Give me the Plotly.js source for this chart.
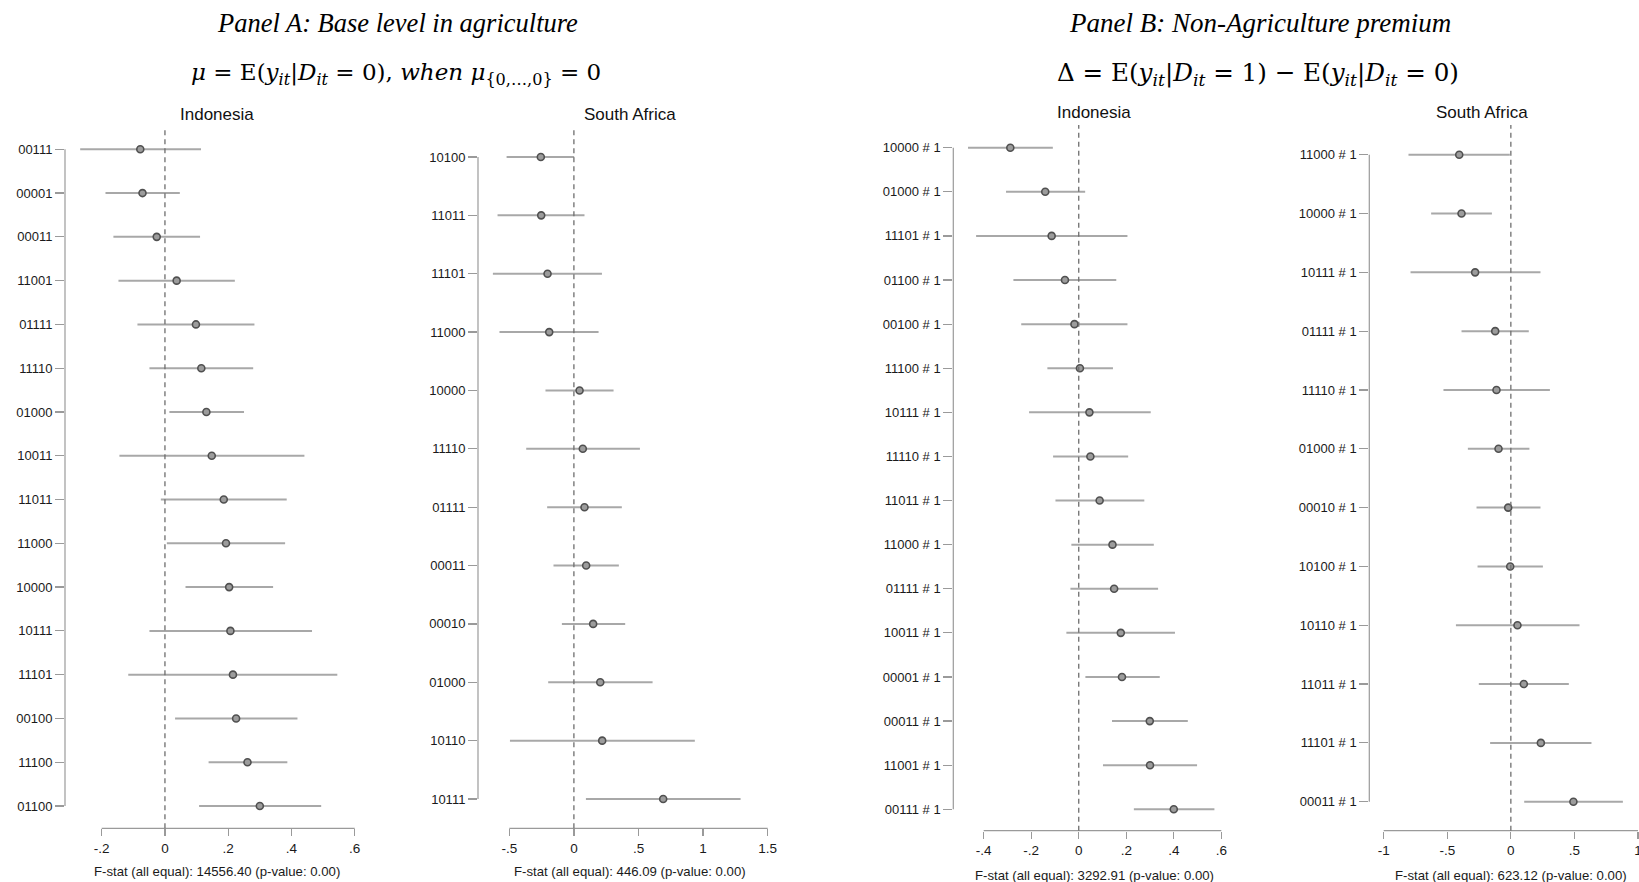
<!DOCTYPE html>
<html>
<head>
<meta charset="utf-8">
<script src="https://cdn.plot.ly/plotly-3.0.1.min.js"></script>
<style>html,body{margin:0;padding:0;background:#fff;}#chart{width:1639px;height:882px;}</style>
</head>
<body>
<div id="chart"></div>
<script>
// ---------------- DATA ----------------
const indoA_labels = ['00111','00001','00011','11001','01111','11110','01000','10011','11011','11000','10000','10111','11101','00100','11100','01100'];
const indoA_coef = [-0.078,-0.071,-0.026,0.037,0.098,0.115,0.131,0.148,0.186,0.193,0.203,0.207,0.215,0.225,0.261,0.300];
const indoA_lo   = [-0.268,-0.188,-0.163,-0.147,-0.087,-0.049,0.014,-0.144,-0.013,0.006,0.065,-0.049,-0.116,0.032,0.138,0.108];
const indoA_hi   = [0.114,0.047,0.111,0.221,0.283,0.279,0.250,0.441,0.385,0.380,0.342,0.465,0.545,0.419,0.387,0.494];

const saA_labels = ['10100','11011','11101','11000','10000','11110','01111','00011','00010','01000','10110','10111'];
const saA_coef = [-0.256,-0.253,-0.204,-0.191,0.044,0.069,0.082,0.095,0.149,0.204,0.219,0.691];
const saA_lo   = [-0.521,-0.591,-0.627,-0.576,-0.220,-0.369,-0.207,-0.158,-0.093,-0.199,-0.495,0.093];
const saA_hi   = [0.002,0.082,0.217,0.191,0.307,0.511,0.371,0.348,0.397,0.609,0.936,1.290];

const indoB_labels = ['10000 # 1','01000 # 1','11101 # 1','01100 # 1','00100 # 1','11100 # 1','10111 # 1','11110 # 1','11011 # 1','11000 # 1','01111 # 1','10011 # 1','00001 # 1','00011 # 1','11001 # 1','00111 # 1'];
const indoB_coef = [-0.288,-0.141,-0.114,-0.058,-0.018,0.005,0.045,0.049,0.088,0.142,0.149,0.177,0.182,0.299,0.300,0.400];
const indoB_lo   = [-0.466,-0.306,-0.432,-0.275,-0.242,-0.132,-0.209,-0.108,-0.098,-0.031,-0.035,-0.052,0.028,0.140,0.102,0.232];
const indoB_hi   = [-0.109,0.027,0.205,0.158,0.205,0.144,0.303,0.208,0.276,0.316,0.334,0.405,0.341,0.459,0.498,0.571];

const saB_labels = ['11000 # 1','10000 # 1','10111 # 1','01111 # 1','11110 # 1','01000 # 1','00010 # 1','10100 # 1','10110 # 1','11011 # 1','11101 # 1','00011 # 1'];
const saB_coef = [-0.406,-0.388,-0.281,-0.123,-0.113,-0.097,-0.021,-0.005,0.052,0.102,0.236,0.492];
const saB_lo   = [-0.805,-0.627,-0.789,-0.388,-0.530,-0.338,-0.270,-0.262,-0.432,-0.252,-0.163,0.105];
const saB_hi   = [-0.008,-0.149,0.233,0.141,0.307,0.146,0.233,0.252,0.540,0.456,0.634,0.881];

const indoA_xticks = [-0.2,0,0.2,0.4,0.6];  const indoA_xtext = ['-.2','0','.2','.4','.6'];
const saA_xticks = [-0.5,0,0.5,1,1.5];      const saA_xtext = ['-.5','0','.5','1','1.5'];
const indoB_xticks = [-0.4,-0.2,0,0.2,0.4,0.6]; const indoB_xtext = ['-.4','-.2','0','.2','.4','.6'];
const saB_xticks = [-1,-0.5,0,0.5,1];       const saB_xtext = ['-1','-.5','0','.5','1'];

const fstatA_indo = 'F-stat (all equal): 14556.40 (p-value: 0.00)';
const fstatA_sa   = 'F-stat (all equal): 446.09 (p-value: 0.00)';
const fstatB_indo = 'F-stat (all equal): 3292.91 (p-value: 0.00)';
const fstatB_sa   = 'F-stat (all equal): 623.12 (p-value: 0.00)';

// ---------------- LAYOUT GEOMETRY (pixels) ----------------
const W = 1639, H = 882;
const AX = '#9a9a9a', BAR = '#a8a8a8', TXT = '#1a1a1a';
const FONT = 'Liberation Sans, Arial, sans-serif';

const panels = [
  {labels: indoA_labels, coef: indoA_coef, lo: indoA_lo, hi: indoA_hi, xt: indoA_xticks, xtt: indoA_xtext,
   px0: 65, px1: 372, top: 127, bot: 828.3, t0v: -0.2, t0p: 101.7, t1v: 0.6, t1p: 354.7, c0: 149.3, c1: 806,
   title: 'Indonesia', tx: 217, ty: 114, fstat: fstatA_indo, fx: 217, fy: 871},
  {labels: saA_labels, coef: saA_coef, lo: saA_lo, hi: saA_hi, xt: saA_xticks, xtt: saA_xtext,
   px0: 478, px1: 782, top: 126.7, bot: 828.3, t0v: -0.5, t0p: 509.3, t1v: 1.5, t1p: 767.7, c0: 157, c1: 799,
   title: 'South Africa', tx: 630, ty: 114, fstat: fstatA_sa, fx: 630, fy: 871},
  {labels: indoB_labels, coef: indoB_coef, lo: indoB_lo, hi: indoB_hi, xt: indoB_xticks, xtt: indoB_xtext,
   px0: 953.3, px1: 1236, top: 125, bot: 830.7, t0v: -0.4, t0p: 983.7, t1v: 0.6, t1p: 1221.3, c0: 147.7, c1: 809.3,
   title: 'Indonesia', tx: 1094, ty: 112, fstat: fstatB_indo, fx: 1094.5, fy: 875},
  {labels: saB_labels, coef: saB_coef, lo: saB_lo, hi: saB_hi, xt: saB_xticks, xtt: saB_xtext,
   px0: 1369.3, px1: 1639, top: 125, bot: 830.7, t0v: -1, t0p: 1383.7, t1v: 1, t1p: 1638, c0: 154.7, c1: 801.7,
   title: 'South Africa', tx: 1482, ty: 112, fstat: fstatB_sa, fx: 1510.5, fy: 875}
];

const traces = [];
const layout = {
  width: W, height: H, margin: {l: 0, r: 0, t: 0, b: 0},
  paper_bgcolor: '#fff', plot_bgcolor: 'rgba(0,0,0,0)',
  showlegend: false, shapes: [], annotations: [],
  font: {family: FONT, color: TXT}
};

panels.forEach((p, i) => {
  const k = i === 0 ? '' : String(i + 1);
  const xa = 'x' + k, ya = 'y' + k;
  const n = p.labels.length;
  const idx = p.labels.map((_, j) => j);
  const ux = (p.t1p - p.t0p) / (p.t1v - p.t0v);
  const xr = [p.t0v - (p.t0p - p.px0) / ux, p.t0v + (p.px1 - p.t0p) / ux];
  const sp = (p.c1 - p.c0) / (n - 1);
  const yr = [(n - 1) + (p.bot - p.c1) / sp, 0 - (p.c0 - p.top) / sp];

  traces.push({
    type: 'scatter', mode: 'markers', x: p.coef, y: idx, xaxis: xa, yaxis: ya,
    cliponaxis: false,
    error_x: {type: 'data', symmetric: false,
      array: p.hi.map((h, j) => h - p.coef[j]),
      arrayminus: p.lo.map((l, j) => p.coef[j] - l),
      width: 0, thickness: 2, color: BAR},
    marker: {symbol: 'circle', size: 7, color: '#9c9c9c', line: {color: '#505050', width: 1.6}},
    hoverinfo: 'skip'
  });

  layout['xaxis' + k] = {
    domain: [p.px0 / W, p.px1 / W], range: xr, anchor: ya,
    showgrid: false, zeroline: false, showline: false,
    tickmode: 'array', tickvals: p.xt, ticktext: p.xtt,
    ticks: 'outside', ticklen: 7, tickwidth: 1.2, tickcolor: AX,
    ticklabeloverflow: 'allow',
    tickfont: {family: FONT, size: 13.5, color: TXT}, fixedrange: true
  };
  layout['yaxis' + k] = {
    domain: [1 - p.bot / H, 1 - p.top / H], range: yr, anchor: xa,
    showgrid: false, zeroline: false, showline: false,
    tickmode: 'array', tickvals: idx, ticktext: p.labels,
    ticks: 'outside', ticklen: 9, tickwidth: 1.2, tickcolor: AX,
    tickfont: {family: FONT, size: 13, color: TXT}, fixedrange: true
  };

  // axis lines spanning only the tick range
  layout.shapes.push({type: 'line', xref: xa, yref: ya + ' domain', x0: p.xt[0], x1: p.xt[p.xt.length - 1], y0: 0, y1: 0,
    line: {color: AX, width: 1.2}});
  layout.shapes.push({type: 'line', xref: xa + ' domain', yref: ya, x0: 0, x1: 0, y0: 0, y1: n - 1,
    line: {color: AX, width: 1.2}});
  // zero reference line
  layout.shapes.push({type: 'line', xref: xa, yref: ya + ' domain', x0: 0, x1: 0, y0: 0, y1: 1,
    line: {color: '#6e6e6e', width: 1.3, dash: '5px,4px'}});

  layout.annotations.push({xref: 'paper', yref: 'paper', x: p.tx / W, y: 1 - p.ty / H, xanchor: 'center', yanchor: 'middle',
    text: p.title, showarrow: false, font: {family: FONT, size: 17, color: '#111'}});
  layout.annotations.push({xref: 'paper', yref: 'paper', x: p.fx / W, y: 1 - p.fy / H, xanchor: 'center', yanchor: 'middle',
    text: p.fstat, showarrow: false, font: {family: FONT, size: 13.2, color: TXT}});
});

const SERIF = 'Liberation Serif, Times New Roman, serif';
const MATH = 'DejaVu Serif, Liberation Serif, serif';
layout.annotations.push(
  {xref: 'paper', yref: 'paper', x: 397 / W, y: 1 - 23 / H, xanchor: 'center', yanchor: 'middle', showarrow: false,
   text: '<i>Panel A: Base level in agriculture</i>', font: {family: SERIF, size: 26.5, color: '#000'}},
  {xref: 'paper', yref: 'paper', x: 396 / W, y: 1 - 74 / H, xanchor: 'center', yanchor: 'middle', showarrow: false,
   text: '<i>μ</i> = E(<i>y</i><sub><i>it</i></sub>|<i>D</i><sub><i>it</i></sub> = 0), <i>when μ</i><sub>{0,…,0}</sub> = 0',
   font: {family: MATH, size: 23, color: '#000'}},
  {xref: 'paper', yref: 'paper', x: 1260 / W, y: 1 - 23 / H, xanchor: 'center', yanchor: 'middle', showarrow: false,
   text: '<i>Panel B: Non-Agriculture premium</i>', font: {family: SERIF, size: 27, color: '#000'}},
  {xref: 'paper', yref: 'paper', x: 1258 / W, y: 1 - 74 / H, xanchor: 'center', yanchor: 'middle', showarrow: false,
   text: 'Δ = E(<i>y</i><sub><i>it</i></sub>|<i>D</i><sub><i>it</i></sub> = 1) − E(<i>y</i><sub><i>it</i></sub>|<i>D</i><sub><i>it</i></sub> = 0)',
   font: {family: MATH, size: 24.6, color: '#000'}}
);

Plotly.newPlot('chart', traces, layout, {staticPlot: true, displayModeBar: false});
</script>
</body>
</html>
